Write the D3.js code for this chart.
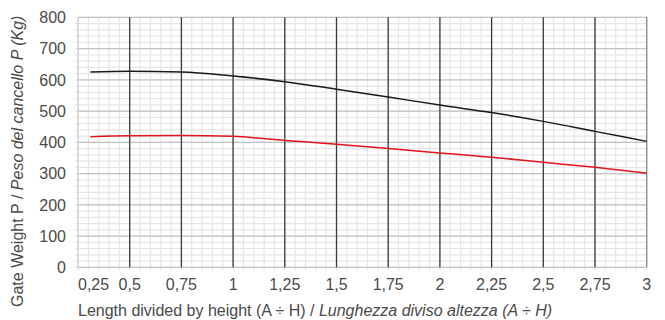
<!DOCTYPE html>
<html><head><meta charset="utf-8">
<script src="https://cdn.jsdelivr.net/npm/d3@7"></script>
<style>body{margin:0;background:#fff}svg{display:block}text{font-family:"Liberation Sans",Arial,sans-serif;fill:#4a4a4a}</style>
</head><body><svg id="c" width="665" height="320"></svg>
<script>
const xTicks=[0.25,0.5,0.75,1,1.25,1.5,1.75,2,2.25,2.5,2.75,3];
const xTickLabels=["0,25","0,5","0,75","1","1,25","1,5","1,75","2","2,25","2,5","2,75","3"];
const yTicks=[0,100,200,300,400,500,600,700,800];
const ratio=[0.31,0.5,0.75,1,1.25,1.5,1.75,2,2.25,2.5,2.75,3];
const blackSeries=[625,627,625,612,594,570,545,519,495,467,435,403];
const redSeries=[418,421,422,419,406,394,380,366,352,336,320,301];
const xTitle="Length divided by height (A ÷ H) / ";
const xTitleIt="Lunghezza diviso altezza (A ÷ H)";
const yTitle="Gate Weight P / ";
const yTitleIt="Peso del cancello P (Kg)";

const svg=d3.select("#c");
const L=78,T=17.3,R=646.7,B=267.3;
const x=d3.scaleLinear().domain([0.25,3]).range([L,R]);
const y=d3.scaleLinear().domain([0,800]).range([B,T]);
const g=svg.append("g");
// minor grid
const xMinor=d3.range(0,56).map(i=>0.25+i*0.05).filter(v=>v<3.001);
const yMinor=d3.range(0,41).map(i=>i*20);
g.selectAll(".vm").data(xMinor).enter().append("line")
 .attr("x1",d=>x(d)).attr("x2",d=>x(d)).attr("y1",T).attr("y2",B+3)
 .attr("stroke","#e6e6e6").attr("stroke-width",1.2);
g.selectAll(".hm").data(yMinor).enter().append("line")
 .attr("x1",L-3).attr("x2",R).attr("y1",d=>y(d)).attr("y2",d=>y(d))
 .attr("stroke","#e6e6e6").attr("stroke-width",1.2);
// major horizontal
g.selectAll(".hM").data(yTicks).enter().append("line")
 .attr("x1",L).attr("x2",R).attr("y1",d=>y(d)).attr("y2",d=>y(d))
 .attr("stroke","#c4c4c4").attr("stroke-width",1.3);
// major vertical
g.selectAll(".vM").data(xTicks).enter().append("line")
 .attr("x1",d=>x(d)).attr("x2",d=>x(d)).attr("y1",T).attr("y2",B)
 .attr("stroke",(d,i)=>i===0?"#cfcfcf":(i===xTicks.length-1?"#888":"#3a3a3a"))
 .attr("stroke-width",(d,i)=>i===0?1.2:1.3);
// lines
const line=d3.line().x(d=>x(d[0])).y(d=>y(d[1])).curve(d3.curveMonotoneX);
g.append("path").datum(ratio.map((r,i)=>[r,blackSeries[i]])).attr("d",line)
 .attr("fill","none").attr("stroke","#1a1a1a").attr("stroke-width",1.5);
g.append("path").datum(ratio.map((r,i)=>[r,redSeries[i]])).attr("d",line)
 .attr("fill","none").attr("stroke","#e3141e").attr("stroke-width",1.5);
// y tick labels
g.selectAll(".yl").data(yTicks).enter().append("text")
 .attr("x",66).attr("y",d=>y(d)).attr("dy","0.36em").attr("text-anchor","end")
 .attr("font-size",16).text(d=>d);
// x tick labels
g.selectAll(".xl").data(xTicks).enter().append("text")
 .attr("x",(d,i)=>i===0?L:x(d)).attr("y",290)
 .attr("text-anchor",(d,i)=>i===0?"start":"middle")
 .attr("font-size",16).text((d,i)=>xTickLabels[i]);
// titles
const xt=g.append("text").attr("x",L).attr("y",316).attr("font-size",16);
xt.append("tspan").text(xTitle);
xt.append("tspan").attr("font-style","italic").text(xTitleIt);
const yt=g.append("text").attr("transform","translate(23,307) rotate(-90)").attr("font-size",16);
yt.append("tspan").text(yTitle);
yt.append("tspan").attr("font-style","italic").text(yTitleIt);
</script></body></html>
